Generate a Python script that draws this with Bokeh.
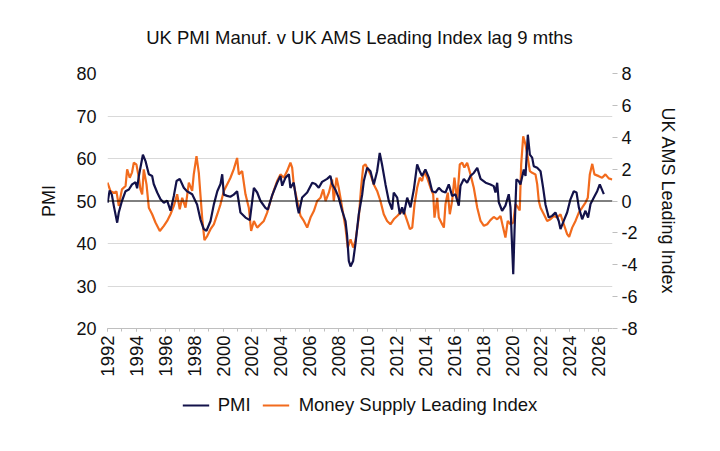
import math
from bokeh.plotting import figure
from bokeh.layouts import column
from bokeh.models import (Range1d, LinearAxis, FixedTicker, Span, Legend,
                          LegendItem, ColumnDataSource)
from bokeh.embed import file_html
from bokeh.resources import INLINE

# ---------------- data ----------------
pmi_year = [1992.00, 1992.15, 1992.30, 1992.44, 1992.67, 1992.78, 1993.00, 1993.25,
            1993.48, 1993.70, 1993.94, 1994.05, 1994.17, 1994.45, 1994.63, 1994.86,
            1995.09, 1995.20, 1995.44, 1995.67, 1995.90, 1996.13, 1996.36, 1996.59,
            1996.78, 1997.00, 1997.28, 1997.50, 1997.86, 1998.20, 1998.43, 1998.66,
            1998.85, 1999.13, 1999.36, 1999.60, 1999.82, 1999.94, 2000.05, 2000.28,
            2000.50, 2000.74, 2000.97, 2001.20, 2001.55, 2001.85, 2002.13, 2002.36,
            2002.59, 2002.93, 2003.10, 2003.40, 2003.74, 2003.97, 2004.09, 2004.32,
            2004.55, 2004.66, 2004.89, 2005.13, 2005.24, 2005.47, 2005.82, 2006.17,
            2006.39, 2006.62, 2006.85, 2007.20, 2007.43, 2007.55, 2007.78, 2008.00,
            2008.24, 2008.47, 2008.58, 2008.70, 2008.82, 2009.00, 2009.16, 2009.39,
            2009.63, 2009.74, 2009.97, 2010.20, 2010.43, 2010.66, 2010.84, 2011.00,
            2011.24, 2011.47, 2011.70, 2011.81, 2012.05, 2012.23, 2012.39, 2012.51,
            2012.74, 2012.97, 2013.20, 2013.43, 2013.61, 2013.77, 2014.00, 2014.24,
            2014.47, 2014.70, 2014.93, 2015.16, 2015.39, 2015.62, 2015.85, 2016.08,
            2016.31, 2016.43, 2016.66, 2016.89, 2017.12, 2017.35, 2017.59, 2017.82,
            2018.17, 2018.50, 2018.73, 2018.85, 2018.97, 2019.08, 2019.31, 2019.54,
            2019.77, 2019.89, 2020.08, 2020.17, 2020.30, 2020.46, 2020.58, 2020.81,
            2020.93, 2021.09, 2021.23, 2021.39, 2021.50, 2021.74, 2021.97, 2022.15,
            2022.31, 2022.54, 2022.77, 2023.00, 2023.23, 2023.35, 2023.58, 2023.81,
            2024.04, 2024.27, 2024.46, 2024.62, 2024.85, 2025.08, 2025.26, 2025.43,
            2025.66, 2025.89, 2026.07, 2026.35]
pmi_value = [49.6, 52.5, 51.5, 48.8, 44.9, 47.3, 50.0, 52.3,
             52.7, 53.9, 54.4, 53.0, 55.9, 60.9, 59.4, 56.3,
             55.9, 54.0, 52.0, 50.4, 49.6, 50.1, 47.7, 51.2,
             54.7, 55.2, 53.1, 52.3, 51.6, 49.2, 45.7, 43.4,
             43.0, 45.3, 49.2, 52.3, 54.0, 56.3, 51.5, 51.2,
             51.0, 51.5, 52.3, 47.3, 46.1, 45.5, 53.1, 52.0,
             50.0, 48.4, 48.0, 51.4, 54.3, 55.9, 53.6, 55.5,
             56.3, 53.1, 54.3, 48.8, 47.1, 50.8, 52.0, 54.3,
             54.0, 53.1, 54.5, 55.2, 55.9, 54.0, 52.6, 50.8,
             47.7, 45.3, 42.0, 35.9, 34.6, 35.9, 39.9, 46.9,
             51.6, 54.7, 57.8, 57.0, 53.9, 57.0, 61.3, 58.6,
             53.9, 50.0, 48.0, 52.0, 50.8, 46.9, 48.5, 46.9,
             50.8, 48.5, 52.7, 58.6, 57.0, 55.9, 57.4, 55.5,
             52.3, 52.0, 53.1, 52.3, 52.0, 53.9, 51.2, 51.6,
             48.9, 53.6, 55.2, 54.3, 55.9, 56.6, 57.8, 55.2,
             54.3, 53.9, 53.5, 52.0, 54.3, 49.7, 47.7, 48.9,
             51.6, 48.5, 32.8, 43.0, 55.1, 54.7, 53.9, 57.4,
             55.9, 65.6, 60.9, 60.2, 58.2, 57.8, 57.0, 53.1,
             49.2, 46.1, 46.5, 47.3, 45.3, 43.4, 45.4, 47.3,
             50.4, 52.3, 52.0, 48.5, 45.7, 47.7, 46.1, 49.3,
             50.8, 52.3, 53.9, 51.6]

ams_year = [1992.00, 1992.20, 1992.44, 1992.62, 1992.78, 1993.00, 1993.25, 1993.36,
            1993.54, 1993.70, 1993.82, 1994.00, 1994.17, 1994.28, 1994.40, 1994.51,
            1994.70, 1994.86, 1995.09, 1995.32, 1995.62, 1995.90, 1996.13, 1996.36,
            1996.59, 1996.82, 1997.00, 1997.17, 1997.40, 1997.63, 1997.86, 1997.97,
            1998.16, 1998.32, 1998.43, 1998.55, 1998.71, 1998.90, 1999.13, 1999.36,
            1999.60, 1999.82, 2000.05, 2000.40, 2000.51, 2000.74, 2000.97, 2001.09,
            2001.32, 2001.55, 2001.78, 2001.94, 2002.13, 2002.36, 2002.59, 2002.82,
            2003.05, 2003.28, 2003.50, 2003.74, 2003.97, 2004.20, 2004.43, 2004.66,
            2004.78, 2004.89, 2005.13, 2005.36, 2005.59, 2005.82, 2006.05, 2006.28,
            2006.51, 2006.74, 2006.93, 2007.09, 2007.32, 2007.55, 2007.66, 2007.85,
            2008.00, 2008.24, 2008.47, 2008.63, 2008.82, 2009.00, 2009.16, 2009.39,
            2009.55, 2009.70, 2009.85, 2010.20, 2010.43, 2010.66, 2010.89, 2011.12,
            2011.35, 2011.58, 2011.81, 2012.05, 2012.28, 2012.51, 2012.74, 2012.93,
            2013.09, 2013.25, 2013.43, 2013.61, 2013.77, 2013.94, 2014.12, 2014.35,
            2014.54, 2014.63, 2014.82, 2014.93, 2015.16, 2015.28, 2015.39, 2015.55,
            2015.69, 2015.85, 2016.01, 2016.20, 2016.38, 2016.55, 2016.70, 2016.89,
            2017.12, 2017.35, 2017.59, 2017.82, 2018.05, 2018.28, 2018.50, 2018.73,
            2018.97, 2019.20, 2019.38, 2019.54, 2019.70, 2019.89, 2020.08, 2020.24,
            2020.40, 2020.53, 2020.63, 2020.77, 2020.93, 2021.09, 2021.23, 2021.39,
            2021.62, 2021.74, 2021.85, 2021.97, 2022.20, 2022.43, 2022.66, 2022.89,
            2023.12, 2023.35, 2023.58, 2023.81, 2023.95, 2024.16, 2024.39, 2024.62,
            2024.85, 2025.08, 2025.24, 2025.38, 2025.55, 2025.70, 2026.00, 2026.23,
            2026.46, 2026.69, 2026.93]
ams_value = [1.15, 0.63, 0.50, 0.60, -0.31, 0.73, 0.94, 1.98,
             1.46, 1.80, 2.40, 2.30, 1.46, 0.73, 0.42, 1.98,
             1.04, -0.42, -0.83, -1.35, -1.88, -1.56, -1.25, -0.83,
             -0.31, 0.42, -0.52, 0.20, -0.42, 1.15, 0.63, 1.67,
             2.81, 1.77, 0.42, -1.04, -2.45, -2.20, -1.77, -1.46,
             -0.83, -0.21, 0.63, 1.25, 1.46, 2.00, 2.70, 1.67,
             1.88, 0.42, -0.42, -1.88, -1.25, -1.67, -1.46, -1.25,
             -0.73, 0.00, 0.63, 1.25, 1.67, 1.46, 1.88, 2.40,
             2.10, 1.04, 0.00, -0.94, -1.25, -1.67, -1.04, -0.63,
             0.00, 0.20, 0.73, 0.00, 0.52, 1.35, 0.00, 1.46,
             0.83, -0.42, -1.67, -2.92, -2.40, -2.92, -2.50, -1.04,
             0.83, 2.19, 2.30, 1.67, 1.04, 0.63, 0.00, -0.83,
             -1.25, -1.46, -1.15, -0.94, -0.73, -0.63, -1.25, -1.77,
             -1.67, -0.20, 0.83, 1.46, 1.25, 1.88, 1.46, 0.83,
             0.42, -1.04, 0.20, -1.04, -1.46, -1.67, -0.20, 0.52,
             -0.83, 0.00, 1.46, 0.00, 2.30, 2.40, 2.10, 2.40,
             1.67, 0.83, -0.42, -1.25, -1.56, -1.46, -1.20, -1.00,
             -1.15, -0.94, -1.67, -2.29, -1.25, -1.46, -1.35, -0.20,
             -0.40, -0.60, 2.30, 4.06, 3.54, 2.71, 1.88, 1.77,
             1.67, 1.04, 0.00, -0.42, -0.83, -1.25, -1.15, -0.94,
             -1.04, -0.83, -1.46, -2.08, -2.25, -1.67, -1.25, -0.73,
             -0.42, -0.10, 0.20, 1.67, 2.33, 1.67, 1.56, 1.46,
             1.67, 1.42, 1.35]

year_ticks = [1992, 1994, 1996, 1998, 2000, 2002, 2004, 2006, 2008, 2010,
              2012, 2014, 2016, 2018, 2020, 2022, 2024, 2026]
year_minor_ticks = list(range(1992, 2027))
pmi_ticks = [20, 30, 40, 50, 60, 70, 80]
pmi_grid = [30, 40, 60, 70]
ams_ticks = [-8, -6, -4, -2, 0, 2, 4, 6, 8]
ams_tick_labels = ["-8", "-6", "-4", "-2", "0", "2", "4", "6", "8"]

title_text = "UK PMI Manuf. v UK AMS Leading Index lag 9 mths"
series_names = ["PMI", "Money Supply Leading Index"]
FONT = "Liberation Sans"
NAVY = "#13124a"
ORANGE = "#f26b1d"
GRID = "#d9d9d9"
AXIS = "#bfbfbf"
TXT = "#111111"

# ---------------- main figure ----------------
p = figure(width=704, height=384, output_backend="svg", toolbar_location=None,
           x_range=Range1d(1992.0, 2026.95), y_range=Range1d(20, 80),
           min_border_left=107, min_border_right=92, min_border_top=72,
           min_border_bottom=56)
p.extra_y_ranges = {"ams": Range1d(-8, 8)}
p.outline_line_color = None
p.background_fill_color = "white"
p.border_fill_color = "white"

p.title.text = title_text
p.title.align = "center"
p.title.vertical_align = "middle"
p.title.text_font = FONT
p.title.text_font_size = "18.5px"
p.title.text_font_style = "normal"
p.title.text_color = TXT
p.title.standoff = 50

# x axis
xa = p.xaxis[0]
xa.ticker = FixedTicker(ticks=year_ticks, minor_ticks=year_minor_ticks)
xa.major_label_orientation = math.pi / 2
xa.major_label_text_font = FONT
xa.major_label_text_font_size = "18.5px"
xa.major_label_text_color = TXT
xa.axis_line_color = AXIS
xa.major_tick_line_color = AXIS
xa.minor_tick_line_color = AXIS
xa.major_tick_out = 3
xa.major_tick_in = 0
xa.minor_tick_out = 3
xa.minor_tick_in = 0
xa.major_label_standoff = 4

# left axis
ya = p.yaxis[0]
ya.ticker = FixedTicker(ticks=pmi_ticks)
ya.axis_label = "PMI"
ya.axis_label_text_font = FONT
ya.axis_label_text_font_size = "18px"
ya.axis_label_text_font_style = "normal"
ya.axis_label_text_color = TXT
ya.axis_label_standoff = 14
ya.major_label_text_font = FONT
ya.major_label_text_font_size = "18px"
ya.major_label_text_color = TXT
ya.axis_line_color = None
ya.major_tick_line_color = None
ya.minor_tick_line_color = None
ya.major_label_standoff = 5

# right axis
ra = LinearAxis(y_range_name="ams", ticker=FixedTicker(ticks=ams_ticks),
                axis_label="UK AMS Leading Index")
ra.major_label_overrides = {t: s for t, s in zip(ams_ticks, ams_tick_labels)}
ra.axis_label_text_font = FONT
ra.axis_label_text_font_size = "18px"
ra.axis_label_text_font_style = "normal"
ra.axis_label_text_color = TXT
ra.axis_label_standoff = 17
ra.major_label_text_font = FONT
ra.major_label_text_font_size = "18px"
ra.major_label_text_color = TXT
ra.axis_line_color = None
ra.major_tick_line_color = AXIS
ra.major_tick_out = 5
ra.major_tick_in = 0
ra.minor_tick_line_color = None
ra.major_label_standoff = 4
p.add_layout(ra, "right")

# grid
p.xgrid.visible = False
p.ygrid.ticker = FixedTicker(ticks=pmi_grid)
p.ygrid.grid_line_color = GRID

# series
src_pmi = ColumnDataSource(dict(x=pmi_year, y=pmi_value))
src_ams = ColumnDataSource(dict(x=ams_year, y=ams_value))
p.line("x", "y", source=src_ams, y_range_name="ams",
       line_color=ORANGE, line_width=2.2)
p.line("x", "y", source=src_pmi, line_color=NAVY, line_width=2.2)

p.add_layout(Span(location=50, dimension="width", line_color="black",
                  line_width=1))

# ---------------- legend strip ----------------
# (same series drawn into a range where they are out of view; only the key shows)
lg = figure(width=704, height=51, output_backend="svg", toolbar_location=None,
            x_range=Range1d(0, 1), y_range=Range1d(0, 1),
            min_border_left=107, min_border_right=92, min_border_top=0,
            min_border_bottom=9)
lg.outline_line_color = None
lg.axis.visible = False
lg.grid.visible = False
k_pmi = lg.line("x", "y", source=src_pmi, line_color=NAVY, line_width=2.2)
k_ams = lg.line("x", "y", source=src_ams, line_color=ORANGE, line_width=2.2)
legend = Legend(items=[LegendItem(label=series_names[0], renderers=[k_pmi]),
                       LegendItem(label=series_names[1], renderers=[k_ams])],
                orientation="horizontal", location="center",
                border_line_color=None, background_fill_alpha=0,
                label_text_font=FONT, label_text_font_size="18.5px",
                label_text_color=TXT,
                glyph_width=27, label_standoff=9, spacing=12,
                margin=0, padding=0)
lg.add_layout(legend)

layout = column(p, lg, spacing=0)
open("out.html", "w").write(file_html(layout, INLINE))
